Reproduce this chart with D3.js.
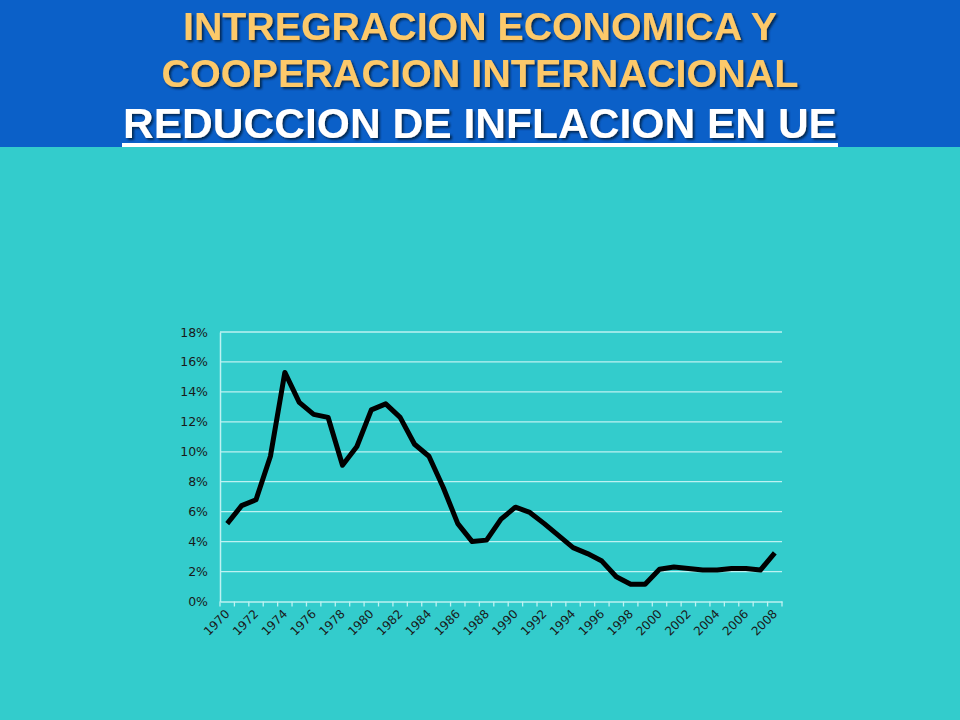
<!DOCTYPE html>
<html><head><meta charset="utf-8">
<script src="https://cdn.jsdelivr.net/npm/d3@7"></script>
<style>html,body{margin:0;padding:0;background:#33cccc;}svg{display:block;}</style>
</head><body>
<script>
const years = d3.range(1970, 2009).map(String);
const inflation = [5.2, 6.4, 6.8, 9.7, 15.3, 13.3, 12.5, 12.3, 9.1, 10.35,
  12.8, 13.2, 12.3, 10.5, 9.7, 7.6, 5.2, 4.0, 4.1, 5.5,
  6.3, 5.95, 5.2, 4.4, 3.6, 3.2, 2.7, 1.65, 1.15, 1.15,
  2.15, 2.3, 2.2, 2.1, 2.1, 2.2, 2.2, 2.1, 3.25];
const yTicks = [0, 2, 4, 6, 8, 10, 12, 14, 16, 18];
const titleLines = ["INTREGRACION ECONOMICA Y", "COOPERACION INTERNACIONAL", "REDUCCION DE INFLACION EN UE"];

const W = 960, H = 720;
const svg = d3.select("body").append("svg").attr("width", W).attr("height", H);
const defs = svg.append("defs");
const f = defs.append("filter").attr("id", "sh").attr("x", "-5%").attr("y", "-20%").attr("width", "110%").attr("height", "150%");
f.append("feDropShadow").attr("dx", 2).attr("dy", 2).attr("stdDeviation", 0.8)
  .attr("flood-color", "#06224a").attr("flood-opacity", 0.9);

svg.append("rect").attr("width", W).attr("height", H).attr("fill", "#33cccc");
svg.append("rect").attr("width", W).attr("height", 147).attr("fill", "#0b60c8");

// Titles
const tcfg = [
  {y: 40, size: 39, len: 594, fill: "#fcc96a"},
  {y: 87, size: 39, len: 637, fill: "#fcc96a"},
  {y: 138, size: 43, len: 714, fill: "#ffffff"}
];
titleLines.forEach((t, i) => {
  const c = tcfg[i];
  svg.append("text").text(t)
    .attr("x", 480).attr("y", c.y)
    .attr("text-anchor", "middle")
    .attr("font-family", "'Liberation Sans',Arial,sans-serif")
    .attr("font-weight", "bold").attr("font-size", c.size)
    .attr("textLength", c.len).attr("lengthAdjust", "spacingAndGlyphs")
    .attr("fill", c.fill).attr("filter", "url(#sh)");
});
svg.append("rect").attr("x", 122).attr("y", 143).attr("width", 716).attr("height", 4).attr("fill", "#ffffff");

// Chart
const x0 = 220, x1 = 782, y0 = 601.5, y1 = 332;
const x = d3.scaleBand().domain(years).range([x0, x1]);
const y = d3.scaleLinear().domain([0, 18]).range([y0, y1]);
const g = svg.append("g");
const grid = "#bdf2f2";

g.selectAll(".grid").data(yTicks.filter(d => d > 0)).join("line")
  .attr("x1", x0).attr("x2", x1)
  .attr("y1", d => y(d)).attr("y2", d => y(d))
  .attr("stroke", grid).attr("stroke-width", 1.3);

const yAxis = g.append("g").attr("transform", `translate(${x0},0)`)
  .call(d3.axisLeft(y).tickValues(yTicks).tickFormat(d => d + "%").tickSize(0).tickPadding(12));
yAxis.select(".domain").attr("stroke", grid).attr("stroke-width", 1.5);
yAxis.selectAll("text").attr("font-family", "'DejaVu Sans',Verdana,sans-serif")
  .attr("font-size", 12.5).attr("fill", "#1a1a1a");

const xAxis = g.append("g").attr("transform", `translate(0,${y0})`)
  .call(d3.axisBottom(x).tickSize(0).tickFormat((d, i) => i % 2 === 0 ? d : ""));
xAxis.select(".domain").attr("stroke", grid).attr("stroke-width", 1.5);
xAxis.selectAll("text")
  .attr("font-family", "'DejaVu Sans',Verdana,sans-serif")
  .attr("font-size", 12).attr("fill", "#1a1a1a")
  .attr("text-anchor", "end")
  .attr("transform", "translate(-4,6) rotate(-45)")
  .attr("dx", 0).attr("dy", "0.6em");

// tick marks at band boundaries
const bounds = years.map(d => x(d)).concat([x1]);
g.selectAll(".tk").data(bounds).join("line")
  .attr("x1", d => d).attr("x2", d => d)
  .attr("y1", y0).attr("y2", y0 + 5)
  .attr("stroke", grid).attr("stroke-width", 1.3);

const line = d3.line()
  .x((d, i) => x(years[i]) + x.bandwidth() / 2)
  .y(d => y(d));
g.append("path").datum(inflation).attr("d", line)
  .attr("fill", "none").attr("stroke", "#000").attr("stroke-width", 5)
  .attr("stroke-linejoin", "round");
</script>
</body></html>
